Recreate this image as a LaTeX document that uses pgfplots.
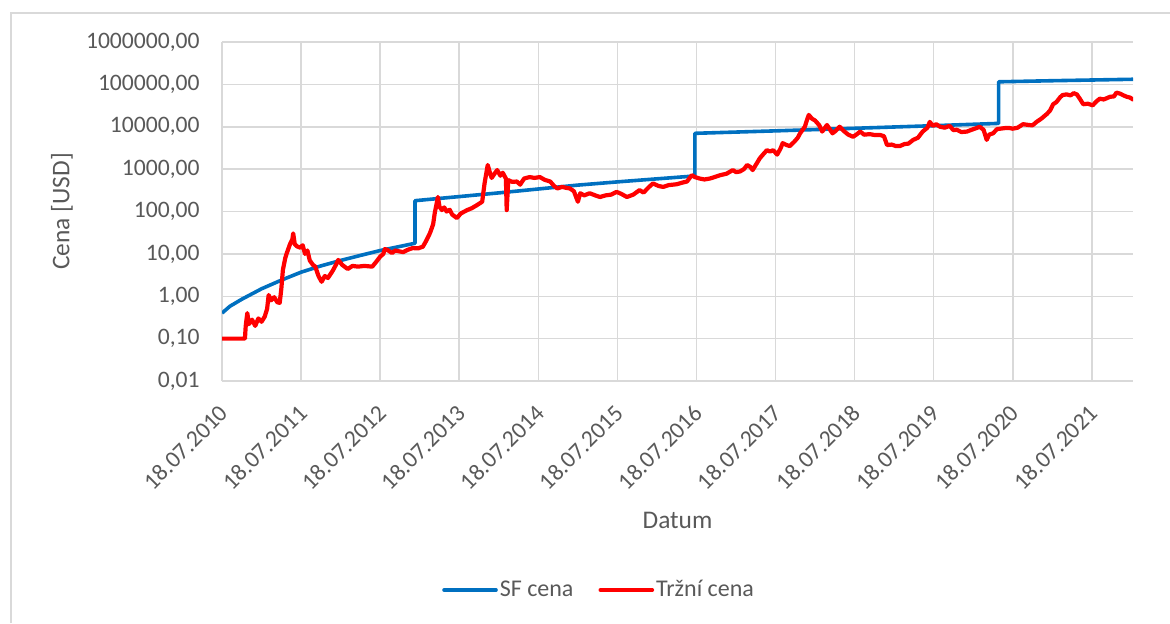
\documentclass[border=0pt]{standalone}
\usepackage{pgfplots}
\pgfplotsset{compat=1.18}
\usepackage{fontspec}
\setmainfont{Carlito}
\definecolor{sfblue}{HTML}{0070C0}
\definecolor{mred}{HTML}{FF0000}
\definecolor{txtgray}{HTML}{595959}
\definecolor{gridgray}{HTML}{D9D9D9}
\begin{document}
\begin{tikzpicture}[x=0.5pt,y=0.5pt]
\path[use as bounding box] (0,0) rectangle (1170,623);
\draw[gridgray, line width=0.75pt] (11,0) -- (11,610) -- (1170,610);
\begin{axis}[
  at={(111pt,121pt)}, anchor=south west, scale only axis,
  width=455.5pt, height=169.5pt,
  xmin=0, xmax=11.52,
  ymode=log, ymin=0.01, ymax=1000000,
  xtick={0,1,2,3,4,5,6,7,8,9,10,11},
  xticklabels={18.07.2010,18.07.2011,18.07.2012,18.07.2013,18.07.2014,18.07.2015,18.07.2016,18.07.2017,18.07.2018,18.07.2019,18.07.2020,18.07.2021},
  ytick={0.01,0.1,1,10,100,1000,10000,100000,1000000},
  yticklabels={{0,01},{0,10},{1,00},{10,00},{100,00},{1000,00},{10000,00},{100000,00},{1000000,00}},
  yminorticks=false, xminorticks=false,
  xmajorgrids, ymajorgrids,
  grid style={gridgray, line width=0.75pt},
  axis x line*=bottom, axis y line*=left,
  x axis line style={gridgray, line width=0.75pt, -},
  y axis line style={draw=none},
  major tick length=0pt,
  ticklabel style={font=\fontsize{11.8}{14}\selectfont, text=txtgray},
  yticklabel style={inner sep=0pt, xshift=-11pt},
  xticklabel style={inner sep=0pt, xshift=-2pt, yshift=-11pt, rotate=45, anchor=north east},
  xlabel={Datum}, ylabel={Cena [USD]},
  label style={font=\fontsize{12.7}{15}\selectfont, text=txtgray},
  xlabel style={at={(axis description cs:0.5,-0.41)}, anchor=center},
  ylabel style={at={(axis description cs:-0.1756,0.5)}, anchor=center},
  legend columns=2,
  legend style={at={(axis description cs:0.415,-0.6165)}, anchor=center, draw=none, fill=none,
    font=\fontsize{12}{15}\selectfont, text=txtgray,
    /tikz/every odd column/.append style={column sep=-1pt},
    /tikz/every even column/.append style={column sep=10.5pt}},
  legend image code/.code={\draw[#1, line cap=round, line width=1.8pt] (0pt,0pt) -- (26pt,0pt);},
]
\addplot[sfblue, line width=1.8pt, line join=round] coordinates {
(0,0.4) (0.1,0.58) (0.25,0.85) (0.5,1.5) (0.75,2.4) (1.0,3.7) (1.25,5.2) (1.5,7.0) (1.75,9.2) (2.0,12) (2.25,15) (2.44,17.8)
(2.44,180) (3.0,225) (3.5,275) (4.0,340) (4.5,420) (5.0,500) (5.5,590) (5.98,690)
(5.98,7000) (7.0,8000) (8.0,9200) (9.0,10600) (9.82,12000)
(9.82,115000) (10.5,122000) (11.52,132000)
};
\addlegendentry{SF cena}
\addplot[mred, line width=2.1pt, line join=round, line cap=round] coordinates {
(0,0.1) (0.29,0.1) (0.30,0.2) (0.32,0.4) (0.34,0.22) (0.38,0.28) (0.42,0.2) (0.46,0.3) (0.50,0.25) (0.54,0.33)
(0.57,0.5) (0.59,1.07) (0.62,0.8) (0.66,0.95) (0.70,0.72) (0.73,0.7) (0.75,1.5) (0.77,4.2) (0.80,8) (0.82,10.5)
(0.86,17) (0.89,22) (0.90,30.5) (0.92,17) (0.95,15) (0.99,14) (1.02,16) (1.05,10) (1.08,12) (1.11,7)
(1.15,5.5) (1.18,5) (1.22,3) (1.26,2.2) (1.30,3) (1.34,2.7) (1.40,4) (1.44,5.5) (1.47,7.2) (1.52,5.5)
(1.59,4.4) (1.65,5.2) (1.72,5) (1.80,5.2) (1.90,5) (1.95,6.5) (2.00,8.6) (2.04,10) (2.06,13) (2.09,12.4)
(2.15,10.5) (2.19,12) (2.29,11) (2.35,12.5) (2.41,13.7) (2.48,13.5) (2.54,14.8) (2.58,20) (2.63,31) (2.67,50)
(2.69,92) (2.71,140) (2.73,220) (2.75,130) (2.78,108) (2.81,125) (2.84,100) (2.88,110) (2.91,85) (2.97,70)
(3.02,90) (3.10,108) (3.16,120) (3.22,140) (3.29,170) (3.32,460) (3.36,1250) (3.39,800) (3.41,620) (3.45,800)
(3.48,950) (3.52,700) (3.55,820) (3.59,600) (3.60,108) (3.62,550) (3.67,500) (3.73,510) (3.77,430) (3.82,600)
(3.89,650) (3.95,620) (4.02,650) (4.08,560) (4.15,510) (4.20,400) (4.24,350) (4.30,380) (4.36,360) (4.40,350)
(4.45,300) (4.50,170) (4.53,270) (4.58,240) (4.65,270) (4.72,240) (4.78,220) (4.85,240) (4.92,250) (4.99,290)
(5.05,260) (5.12,220) (5.20,250) (5.28,320) (5.33,280) (5.40,380) (5.45,460) (5.52,400) (5.58,380) (5.65,420)
(5.75,440) (5.82,480) (5.88,510) (5.94,720) (5.98,650) (6.04,600) (6.10,570) (6.17,600) (6.23,650) (6.30,720)
(6.38,780) (6.46,950) (6.50,850) (6.55,880) (6.60,1000) (6.64,1250) (6.68,1130) (6.71,950) (6.76,1350) (6.80,1800)
(6.84,2200) (6.89,2800) (6.93,2600) (6.97,2800) (7.02,2200) (7.06,3000) (7.09,4100) (7.14,3700) (7.18,3500) (7.24,4500)
(7.28,5500) (7.31,7000) (7.37,10000) (7.40,15000) (7.42,19000) (7.46,15500) (7.50,14000) (7.55,11000) (7.59,7700) (7.65,11000)
(7.68,9000) (7.72,7000) (7.76,8000) (7.81,10000) (7.86,8000) (7.92,6500) (7.98,5800) (8.02,6500) (8.07,7700) (8.12,6500)
(8.19,6700) (8.25,6400) (8.32,6400) (8.37,6000) (8.41,3700) (8.47,3800) (8.52,3500) (8.57,3500) (8.63,3900) (8.68,4000)
(8.74,4900) (8.80,5500) (8.86,7700) (8.92,9500) (8.95,13000) (8.99,10500) (9.03,11500) (9.08,10000) (9.14,9500) (9.20,10500)
(9.25,8300) (9.29,8500) (9.35,7500) (9.42,7700) (9.48,8500) (9.54,9300) (9.58,10000) (9.63,8500) (9.67,4900) (9.70,6500)
(9.75,7000) (9.80,8800) (9.84,9000) (9.90,9300) (9.95,9400) (10.00,9000) (10.06,9500) (10.13,11500) (10.20,11000) (10.25,10800)
(10.30,13000) (10.36,15500) (10.43,20000) (10.47,24000) (10.51,34000) (10.55,38000) (10.60,50000) (10.63,56000) (10.68,58000) (10.73,55000)
(10.77,62000) (10.81,58000) (10.85,45000) (10.89,34000) (10.95,35000) (11.01,32000) (11.06,40000) (11.10,46000) (11.15,44000) (11.23,51000)
(11.28,52000) (11.31,64000) (11.36,60000) (11.40,55000) (11.44,51000) (11.48,49000) (11.52,44000)
};
\addlegendentry{Tržní cena}
\end{axis}
\end{tikzpicture}
\end{document}
